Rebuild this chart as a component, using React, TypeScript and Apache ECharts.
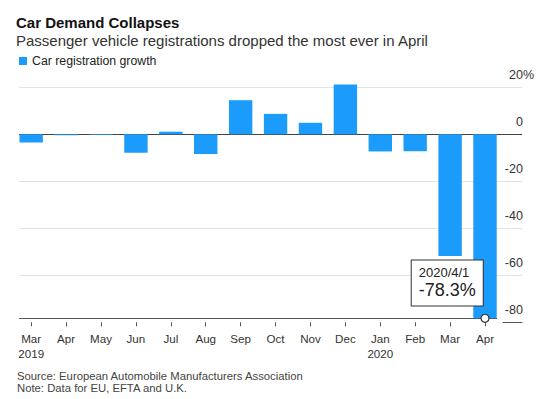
import React, { useEffect, useRef } from 'react';
import * as echarts from 'echarts';

// ---- data ----
const months = ['Mar', 'Apr', 'May', 'Jun', 'Jul', 'Aug', 'Sep', 'Oct', 'Nov', 'Dec', 'Jan', 'Feb', 'Mar', 'Apr'];
const years = ['2019', '', '', '', '', '', '', '', '', '', '2020', '', '', ''];
const growth = [-3.5, -0.4, -0.3, -7.8, 1.1, -8.4, 14.5, 8.7, 4.9, 21.2, -7.3, -7.2, -51.8, -78.3];
const seriesName = 'Car registration growth';
const annotationDate = '2020/4/1';
const yMin = -80;
const yMax = 20;
const yStep = 20;

const FONT = "'Liberation Sans', Arial, Helvetica, sans-serif";

export default function App() {
  const ref = useRef<HTMLDivElement>(null);

  useEffect(() => {
    if (!ref.current) return;
    const chart = echarts.init(ref.current, null, { renderer: 'svg' });

    const plotTop = 87.3;
    const plotHeight = 235;
    const pxPerUnit = plotHeight / (yMax - yMin);
    const dataMin = Math.min(...growth);
    const lastIdx = growth.length - 1;
    const halfBand = 0.335;
    const idx = months.map((_, i) => i);

    const option: any = {
      animation: false,
      textStyle: { fontFamily: FONT },
      title: [
        {
          text: 'Car Demand Collapses',
          subtext: 'Passenger vehicle registrations dropped the most ever in April',
          left: 16,
          top: 13,
          padding: 0,
          itemGap: 0,
          textStyle: { fontFamily: FONT, fontSize: 15, fontWeight: 'bold', color: '#111', lineHeight: 18 },
          subtextStyle: { fontFamily: FONT, fontSize: 15, color: '#333', lineHeight: 18 },
        },
        {
          text: 'Source: European Automobile Manufacturers Association\nNote: Data for EU, EFTA and U.K.',
          left: 17,
          top: 369.5,
          padding: 0,
          textStyle: { fontFamily: FONT, fontSize: 11.3, fontWeight: 'normal', color: '#444', lineHeight: 12.6 },
        },
      ],
      legend: {
        data: [seriesName],
        left: 19,
        top: 55,
        padding: 0,
        icon: 'rect',
        itemWidth: 8,
        itemHeight: 8,
        textStyle: { fontFamily: FONT, fontSize: 12.3, color: '#222' },
      },
      grid: [
        { left: 19.5, right: 550 - 496.7, top: plotTop, height: plotHeight },
        { left: 19, right: 28, top: plotTop, height: plotHeight },
        { left: 503, right: 28, top: plotTop, height: plotHeight },
      ],
      xAxis: [
        {
          gridIndex: 0,
          type: 'value',
          min: -halfBand,
          max: lastIdx + halfBand,
          position: 'bottom',
          offset: -(dataMin - yMin) * pxPerUnit,
          axisLine: { show: true, onZero: false, lineStyle: { color: '#555', width: 1 } },
          axisTick: { show: false },
          axisLabel: { show: false },
          splitLine: { show: false },
        },
        {
          gridIndex: 0,
          type: 'value',
          min: -halfBand,
          max: lastIdx + halfBand,
          position: 'bottom',
          axisLine: { show: false, onZero: false },
          axisTick: { show: true, length: 4, customValues: idx, lineStyle: { color: '#555' } },
          axisLabel: {
            show: true,
            customValues: idx,
            margin: 9,
            fontFamily: FONT,
            fontSize: 11.6,
            lineHeight: 14.6,
            color: '#333',
            formatter: (v: number) => {
              const i = Math.round(v);
              return years[i] ? `${months[i]}\n${years[i]}` : months[i];
            },
          },
          splitLine: { show: false },
        },
        { gridIndex: 1, type: 'value', show: false },
        {
          gridIndex: 2,
          type: 'value',
          position: 'bottom',
          axisLine: { show: true, onZero: false, lineStyle: { color: '#555', width: 1 } },
          axisTick: { show: false },
          axisLabel: { show: false },
          splitLine: { show: false },
        },
      ],
      yAxis: [
        { gridIndex: 0, type: 'value', min: yMin, max: yMax, show: false },
        {
          gridIndex: 1,
          type: 'value',
          position: 'right',
          min: yMin,
          max: yMax,
          interval: yStep,
          axisLine: { show: false },
          axisTick: { show: false },
          splitLine: {
            show: true,
            lineStyle: {
              width: 1,
              color: ['rgba(0,0,0,0)', '#e3e3e3', '#e3e3e3', '#e3e3e3', '#444', '#e3e3e3'],
            },
          },
          axisLabel: {
            inside: true,
            margin: -12,
            verticalAlign: 'bottom',
            padding: [0, 0, 5, 0],
            formatter: (v: number) => (v === yMax ? `{n|${v}}{p|%}` : `{n|${v}}{h|%}`),
            rich: {
              n: { fontFamily: FONT, fontSize: 12.5, color: '#333', lineHeight: 14 },
              p: { fontFamily: FONT, fontSize: 12.5, color: '#333', lineHeight: 14 },
              h: { fontFamily: FONT, fontSize: 12.5, color: 'rgba(0,0,0,0)', lineHeight: 14 },
            },
          },
        },
        { gridIndex: 2, type: 'value', min: yMin, max: yMax, show: false },
      ],
      series: [
        {
          name: seriesName,
          type: 'bar',
          xAxisIndex: 0,
          yAxisIndex: 0,
          clip: false,
          barWidth: 23.4,
          itemStyle: { color: '#1b9bfc' },
          data: growth.map((v, i) => [i, v]),
          markPoint: {
            symbol: 'circle',
            symbolSize: 8,
            itemStyle: { color: '#fff', borderColor: '#333', borderWidth: 1.2 },
            data: [
              {
                coord: [lastIdx, growth[lastIdx]],
                label: {
                  show: true,
                  position: [-68.7, -53.3],
                  align: 'left',
                  verticalAlign: 'top',
                  backgroundColor: '#fff',
                  borderColor: '#333',
                  borderWidth: 1,
                  padding: [4, 7, 5, 7],
                  formatter: `{a|${annotationDate}}\n{b|${growth[lastIdx]}%}`,
                  rich: {
                    a: { fontFamily: FONT, fontSize: 13, lineHeight: 16, color: '#222' },
                    b: { fontFamily: FONT, fontSize: 18, lineHeight: 20, color: '#222' },
                  },
                },
              },
            ],
          },
        },
      ],
    };

    chart.setOption(option);
    return () => chart.dispose();
  }, []);

  return (
    <div
      ref={ref}
      style={{ position: 'fixed', left: 0, top: 0, width: 550, height: 399, background: '#fff' }}
    />
  );
}
